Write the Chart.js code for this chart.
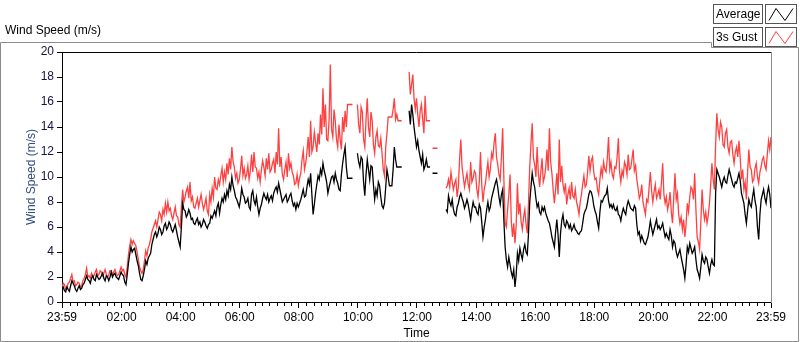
<!DOCTYPE html>
<html>
<head>
<meta charset="utf-8">
<script src="https://cdn.jsdelivr.net/npm/chart.js@4/dist/chart.umd.min.js"></script>
<style>
  html, body { margin: 0; padding: 0; background: #fff; }
  canvas { display: block; }
</style>
</head>
<body>
<canvas id="chart" width="800" height="342"></canvas>
<script>
// time axis: minutes after midnight, one sample every 2.5 minutes from 23:59
const startMinute = -1;
const stepMinutes = 2.5;

const majorTicks = [-1, 120, 240, 360, 480, 600, 720, 840, 960, 1080, 1200, 1320, 1439];
const tickLabels = ['23:59', '02:00', '04:00', '06:00', '08:00', '10:00', '12:00',
  '14:00', '16:00', '18:00', '20:00', '22:00', '23:59'];
const yTicks = [0, 2, 4, 6, 8, 10, 12, 14, 16, 18, 20];

// Average wind speed (m/s), null = no data
const average = [
  1.0,1.2, 0.9,0.8, 1.2,1.0, 0.85,1.3, 1.7,1.5, 1.3,1.0, 0.85,1.1, 1.3,1.0, 1.1,1.4, 1.5,1.8, 2.1,1.8, 1.7,1.5,
  1.9,2.1, 1.8,1.7, 2.2,2.0, 1.8,1.9, 2.1,2.3, 1.9,1.7, 2.1,2.0, 1.7,2.0, 2.4,2.0, 2.2,2.3, 2.0,1.9, 1.8,2.1,
  2.4,2.2, 2.1,1.6, 1.4,2.2, 3.1,3.8, 4.4,4.0, 4.2,4.3, 3.8,3.3, 2.9,2.3, 1.8,1.7, 2.1,2.6, 3.3,3.0, 3.5,3.7,
  3.9,4.6, 5.0,5.4, 5.6,5.2, 5.5,6.0, 5.8,5.4, 5.6,6.1, 6.3,5.8, 6.0,6.4, 6.2,5.8, 5.6,5.9, 6.2,5.7, 5.2,4.8,
  4.4,6.0, 7.9,7.4, 7.3,6.8, 7.0,7.4, 7.1,6.6, 6.7,6.3, 6.2,6.5, 6.7,6.2, 6.4,6.0, 6.2,6.6, 6.4,6.1, 5.9,6.2,
  6.3,6.9, 6.7,7.0, 7.3,6.9, 7.6,7.9, 7.1,7.8, 8.3,8.0, 8.6,8.2, 8.9,8.5, 9.4,9.0, 10.0,9.3, 8.9,8.4, 8.2,7.9,
  7.6,8.2, 9.1,8.6, 8.4,7.9, 8.0,8.3, 7.6,7.4, 8.6,8.9, 8.1,7.8, 8.4,7.6, 7.0,7.5, 7.8,8.3, 8.7,8.4, 8.2,8.6,
  8.0,8.3, 8.5,8.1, 8.7,9.0, 9.2,8.8, 9.5,9.0, 8.5,8.0, 8.2,8.4, 8.6,8.0, 8.2,8.5, 8.7,8.1, 7.7,7.9, 7.4,7.9,
  7.6,7.9, 8.2,8.6, 9.0,8.4, 8.5,9.2, 9.8,9.4, 10.3,8.6, 7.0,7.8, 8.7,9.4, 10.1,9.8, 10.6,10.2, 11.1,10.5, 10.1,9.6,
  8.7,9.2, 9.6,10.0, 10.1,9.6, 10.3,9.8, 9.5,9.0, 8.9,10.2, 11.1,11.8, 12.4,10.8, 9.9,9.9, 9.9,9.9, 9.9,null, null,null,
  11.9,11.2, 10.8,11.6, 11.4,9.6, 8.5,10.2, 11.4,10.6, 9.8,10.9, 10.8,9.4, 8.2,9.0, 8.5,9.6, 9.3,8.4, 7.7,7.5, 7.9,9.2,
  10.6,10.0, 9.3,9.3, 9.3,10.6, 12.4,11.4, 10.8,10.8, 10.8,10.8, 10.8,null, null,null, null,null, 15.3,14.2, 15.8,15.0, 14.0,13.2,
  12.4,12.9, 12.1,11.6, 11.1,11.8, 10.6,10.9, 11.4,10.8, 10.8,10.8, null,10.3, 10.3,10.3, 10.3,10.3, null,null, null,null, null,null,
  7.4,7.2, 8.5,8.0, 7.7,8.2, 7.4,7.0, 6.9,7.6, 7.9,8.4, 8.7,8.3, 8.0,7.5, 7.8,8.2, 7.8,7.2, 6.6,7.4, 8.0,7.6,
  7.6,7.2, 7.0,7.8, 7.5,6.4, 5.2,6.0, 6.6,7.4, 8.0,7.3, 7.6,8.3, 8.7,9.1, 9.5,9.8, 9.2,8.4, 7.8,8.6, 9.0,6.5,
  4.4,3.4, 2.8,3.6, 3.0,2.4, 2.0,2.6, 1.2,2.2, 3.9,3.3, 4.3,3.8, 3.4,4.2, 4.6,4.0, 3.8,5.5, 8.0,9.2, 10.3,9.6,
  9.2,8.3, 7.6,7.9, 7.2,7.0, 7.6,7.3, 7.6,7.1, 6.8,6.5, 6.3,5.8, 5.2,4.8, 4.4,5.6, 6.6,5.4, 3.6,5.5, 6.5,7.0,
  6.2,6.0, 6.5,6.3, 5.9,6.2, 5.7,5.9, 6.2,5.8, 5.7,5.5, 5.4,5.6, 5.7,6.3, 7.0,7.3, 7.5,8.0, 8.6,8.9, 8.8,8.4,
  7.7,7.3, 7.0,6.4, 5.9,7.2, 8.1,8.0, 8.3,8.5, 8.6,9.1, 8.1,7.6, 7.8,7.5, 7.8,7.4, 7.3,7.6, 7.0,6.9, 6.5,7.1,
  7.5,7.2, 7.0,7.7, 8.1,7.8, 7.5,7.4, 7.3,7.7, 7.5,6.2, 5.4,5.6, 4.9,5.3, 5.0,4.7, 4.6,4.9, 5.2,5.8, 6.5,5.9,
  5.4,5.8, 6.2,6.6, 5.9,6.1, 5.8,6.0, 6.3,5.7, 5.2,5.5, 5.2,5.0, 5.8,5.3, 4.4,4.9, 4.7,4.0, 3.6,3.9, 4.2,3.6,
  3.1,2.6, 1.9,3.0, 4.4,4.0, 4.7,4.3, 3.9,4.1, 4.4,3.4, 2.6,2.3, 1.9,2.8, 3.8,3.3, 3.1,3.6, 3.4,2.8, 2.3,3.0,
  3.4,3.0, 2.9,8.7, 10.6,10.3, 10.0,9.6, 9.2,9.7, 10.0,9.6, 9.5,10.1, 10.6,10.2, 9.8,9.4, 9.2,9.6, 9.5,9.9, 10.3,9.7,
  8.7,8.3, 7.9,7.0, 6.3,7.3, 8.2,7.8, 7.6,8.4, 9.0,8.1, 7.6,6.0, 5.0,7.0, 8.2,8.6, 9.0,8.3, 7.9,8.7, 9.2,8.6,
  7.5
];

// 3 second gust (m/s)
const gust = [
  1.2,1.5, 1.4,1.0, 1.1,1.5, 1.6,1.9, 2.2,1.6, 1.7,1.3, 1.4,1.6, 1.5,1.2, 1.3,1.7, 1.9,2.2, 2.7,2.0, 2.1,1.9,
  2.3,2.0, 2.1,2.4, 2.6,2.1, 2.2,2.5, 2.4,2.1, 2.3,2.6, 2.2,2.0, 2.2,2.5, 2.5,2.2, 2.4,2.6, 2.3,2.1, 2.2,2.5,
  2.8,2.5, 2.6,2.2, 2.0,2.8, 3.8,4.5, 5.0,4.6, 4.9,4.7, 4.5,4.0, 3.4,2.8, 2.5,2.3, 2.6,3.3, 4.1,3.7, 4.3,4.6,
  5.0,5.6, 5.9,6.2, 6.5,6.0, 6.6,7.2, 7.0,6.5, 7.4,7.0, 7.9,7.2, 8.0,7.3, 7.5,6.9, 6.6,7.1, 7.6,6.9, 6.8,6.2,
  6.0,7.6, 9.0,8.0, 8.4,8.9, 9.2,8.3, 9.6,8.1, 8.4,7.6, 7.5,7.9, 8.3,7.6, 8.1,8.6, 7.9,7.4, 7.8,8.3, 7.3,7.0,
  8.6,8.0, 9.1,8.4, 10.0,9.1, 9.0,9.8, 9.4,10.1, 10.7,9.6, 10.4,9.8, 11.1,10.2, 11.5,10.6, 12.4,11.2, 10.8,9.9, 10.3,9.5,
  9.8,10.6, 11.7,10.1, 10.7,9.9, 10.2,10.9, 9.8,10.5, 11.8,10.4, 12.0,10.8, 10.7,9.9, 10.4,9.6, 10.6,11.3, 10.8,10.1, 11.5,10.6,
  11.9,10.4, 10.6,11.1, 11.4,10.3, 12.0,11.0, 13.9,10.8, 11.6,10.2, 9.8,10.6, 11.2,10.0, 11.9,10.7, 11.1,10.4, 10.1,9.4, 9.5,10.2,
  9.3,9.9, 10.3,11.4, 12.1,10.6, 11.1,12.0, 13.2,11.6, 14.5,12.0, 12.4,13.6, 12.8,12.0, 13.5,12.6, 15.0,13.4, 17.1,14.0, 15.8,13.0,
  12.9,14.6, 19.0,13.8, 13.2,15.4, 14.5,13.0, 12.4,14.2, 13.0,12.2, 14.8,13.6, 15.3,14.0, 15.8,15.8, 15.8,15.8, 15.8,null, null,null,
  15.8,14.2, 13.5,15.6, 15.2,13.0, 12.4,14.6, 16.3,14.0, 13.2,15.2, 14.5,12.6, 11.9,13.2, 13.7,12.5, 12.4,13.1, 11.9,10.6, 10.1,12.4,
  13.5,14.8, 14.8,14.8, 14.8,15.4, 16.3,14.6, 15.0,14.5, 14.5,14.5, 14.5,null, null,null, null,null, 18.4,16.6, 17.4,18.2, 16.3,15.4,
  16.3,15.0, 14.0,15.3, 15.8,14.6, 13.5,16.5, 14.5,14.5, 14.5,14.5, null,12.3, 12.3,12.3, 12.3,12.3, null,null, null,null, null,null,
  9.1,9.3, 9.8,9.2, 10.4,9.6, 9.0,9.5, 9.8,8.4, 9.2,11.4, 13.0,10.8, 10.0,9.2, 9.8,10.3, 9.4,9.0, 11.2,9.6, 9.9,10.5,
  10.3,9.0, 8.4,9.6, 12.0,9.4, 8.0,9.0, 9.5,10.4, 11.2,10.0, 10.6,11.9, 11.5,12.7, 13.5,11.6, 11.0,10.2, 9.8,11.6, 13.9,9.8,
  6.3,6.0, 7.4,8.6, 10.2,6.5, 5.2,6.3, 4.7,6.2, 9.5,7.0, 7.9,6.4, 5.8,6.8, 7.4,6.2, 5.5,8.0, 10.8,12.7, 14.3,11.5,
  11.0,10.0, 12.4,10.3, 9.2,10.4, 11.5,9.6, 10.0,10.8, 12.2,10.5, 13.9,11.2, 10.3,9.0, 7.9,9.0, 10.3,8.6, 13.0,9.6, 10.9,9.4,
  8.8,9.5, 7.8,8.6, 9.1,8.2, 9.6,8.5, 8.3,9.0, 8.0,7.6, 7.0,8.0, 8.6,9.4, 10.1,9.2, 9.4,10.4, 11.7,10.5, 11.3,11.6,
  10.4,9.8, 9.9,9.0, 8.6,9.8, 10.7,10.1, 11.2,10.6, 10.4,11.5, 13.2,10.6, 11.2,10.2, 9.9,10.8, 10.7,11.6, 13.1,10.4, 9.6,10.5,
  10.1,11.2, 10.9,10.2, 11.8,10.6, 10.7,11.4, 12.2,10.5, 10.9,9.8, 9.1,8.3, 8.6,9.4, 8.0,7.5, 7.0,8.2, 8.0,9.2, 10.4,8.9,
  8.0,8.8, 9.4,8.3, 8.6,9.0, 8.2,9.6, 11.1,8.6, 7.9,8.4, 7.4,7.9, 8.8,7.2, 6.3,8.4, 10.3,8.2, 8.7,7.0, 6.3,6.8,
  5.8,6.6, 5.2,6.2, 7.9,7.2, 8.4,9.2, 9.0,8.2, 10.3,7.4, 5.2,4.8, 4.2,6.4, 9.0,7.4, 6.6,7.2, 6.3,6.9, 7.9,9.4,
  11.1,9.8, 9.0,12.6, 15.1,13.8, 13.2,14.4, 14.0,12.6, 12.4,13.5, 13.8,12.4, 11.9,12.8, 12.9,11.8, 11.1,12.0, 12.4,11.6, 12.9,11.5,
  9.8,10.6, 9.0,9.6, 8.2,10.4, 12.2,10.8, 10.6,9.6, 9.8,10.7, 11.1,10.0, 9.5,10.4, 10.8,11.4, 11.6,10.9, 10.6,11.8, 12.9,12.2,
  13.2
];

const FONT = 'Liberation Sans, Arial, sans-serif';

function toPoints(values) {
  return values.map((v, i) => ({ x: startMinute + i * stepMinutes, y: v }));
}

// LabVIEW style frame, caption, legend boxes and minor time ticks
const framePlugin = {
  id: 'frame',
  beforeDraw(chart) {
    const ctx = chart.ctx;
    ctx.save();
    ctx.fillStyle = '#fff';
    ctx.fillRect(0, 0, chart.width, chart.height);
    ctx.restore();
  },
  afterDraw(chart) {
    const ctx = chart.ctx;
    const area = chart.chartArea;
    const xs = chart.scales.x;
    ctx.save();

    // outer panel
    ctx.strokeStyle = '#8c8c8c';
    ctx.lineWidth = 1;
    ctx.beginPath();
    ctx.moveTo(0.5, 341.5);
    ctx.lineTo(0.5, 42.5);
    ctx.lineTo(711.5, 42.5);
    ctx.lineTo(711.5, 47.5);
    ctx.lineTo(798.5, 47.5);
    ctx.lineTo(798.5, 341.5);
    ctx.closePath();
    ctx.stroke();

    // plot border: black top, grey right
    ctx.strokeStyle = '#000';
    ctx.beginPath();
    ctx.moveTo(area.left, area.top + 0.5);
    ctx.lineTo(area.right, area.top + 0.5);
    ctx.stroke();
    ctx.strokeStyle = '#8c8c8c';
    ctx.beginPath();
    ctx.moveTo(area.right + 0.5, area.top);
    ctx.lineTo(area.right + 0.5, area.bottom + 1);
    ctx.stroke();

    // minor ticks every 15 minutes
    ctx.strokeStyle = '#000';
    ctx.beginPath();
    for (let m = 15; m < 1439; m += 15) {
      if (m % 120 === 0) continue;
      const px = Math.round(xs.getPixelForValue(m)) + 0.5;
      ctx.moveTo(px, area.bottom);
      ctx.lineTo(px, area.bottom + 4);
    }
    ctx.stroke();

    // caption
    ctx.fillStyle = '#000';
    ctx.font = '12px ' + FONT;
    ctx.textBaseline = 'middle';
    ctx.textAlign = 'left';
    ctx.fillText('Wind Speed (m/s)', 5, 31);

    // legend
    chart.data.datasets.forEach((ds, k) => {
      const top = 4.5 + k * 23;
      ctx.strokeStyle = '#555';
      ctx.lineWidth = 1;
      ctx.strokeRect(713.5, top, 49, 19);
      ctx.strokeRect(765.5, top, 31, 19);
      ctx.fillStyle = '#000';
      ctx.fillText(ds.label, 716, top + 10);
      ctx.strokeStyle = ds.borderColor;
      ctx.beginPath();
      ctx.moveTo(769, top + 16);
      ctx.lineTo(776, top + 4);
      ctx.lineTo(785, top + 16);
      ctx.lineTo(793, top + 4);
      ctx.stroke();
    });
    ctx.restore();
  }
};

new Chart(document.getElementById('chart'), {
  type: 'line',
  data: {
    datasets: [
      {
        label: 'Average',
        data: toPoints(average),
        borderColor: '#000000',
        borderWidth: 1.3,
        pointRadius: 0,
        tension: 0,
        spanGaps: false
      },
      {
        label: '3s Gust',
        data: toPoints(gust),
        borderColor: '#ff4040',
        borderWidth: 1.3,
        pointRadius: 0,
        tension: 0,
        spanGaps: false
      }
    ]
  },
  options: {
    responsive: false,
    animation: false,
    layout: { padding: { left: 0, top: 52, right: 29, bottom: 0 } },
    plugins: {
      legend: { display: false },
      tooltip: { enabled: false }
    },
    scales: {
      x: {
        type: 'linear',
        min: -1,
        max: 1439,
        afterBuildTicks(scale) {
          scale.ticks = majorTicks.map(v => ({ value: v }));
        },
        afterFit(scale) { scale.height = 40; },
        ticks: {
          autoSkip: false,
          maxRotation: 0,
          padding: 2,
          color: '#000',
          font: { family: FONT, size: 12 },
          callback: (v, i) => tickLabels[i]
        },
        grid: { drawOnChartArea: false, drawTicks: true, tickLength: 6, color: '#000' },
        border: { display: true, color: '#000' },
        title: {
          display: true,
          text: 'Time',
          color: '#000',
          font: { family: FONT, size: 12 },
          padding: { top: 0, bottom: 1 }
        }
      },
      y: {
        min: 0,
        max: 20,
        afterBuildTicks(scale) {
          scale.ticks = yTicks.map(v => ({ value: v }));
        },
        afterFit(scale) { scale.width = 62; },
        ticks: {
          padding: 3,
          color: '#14143c',
          font: { family: FONT, size: 12 }
        },
        grid: { drawOnChartArea: false, drawTicks: true, tickLength: 5, color: '#000' },
        border: { display: true, color: '#000' },
        title: {
          display: true,
          text: 'Wind Speed (m/s)',
          color: '#2f4f80',
          font: { family: FONT, size: 12 },
          padding: { top: 24, bottom: 0 }
        }
      }
    }
  },
  plugins: [framePlugin]
});
</script>
</body>
</html>
